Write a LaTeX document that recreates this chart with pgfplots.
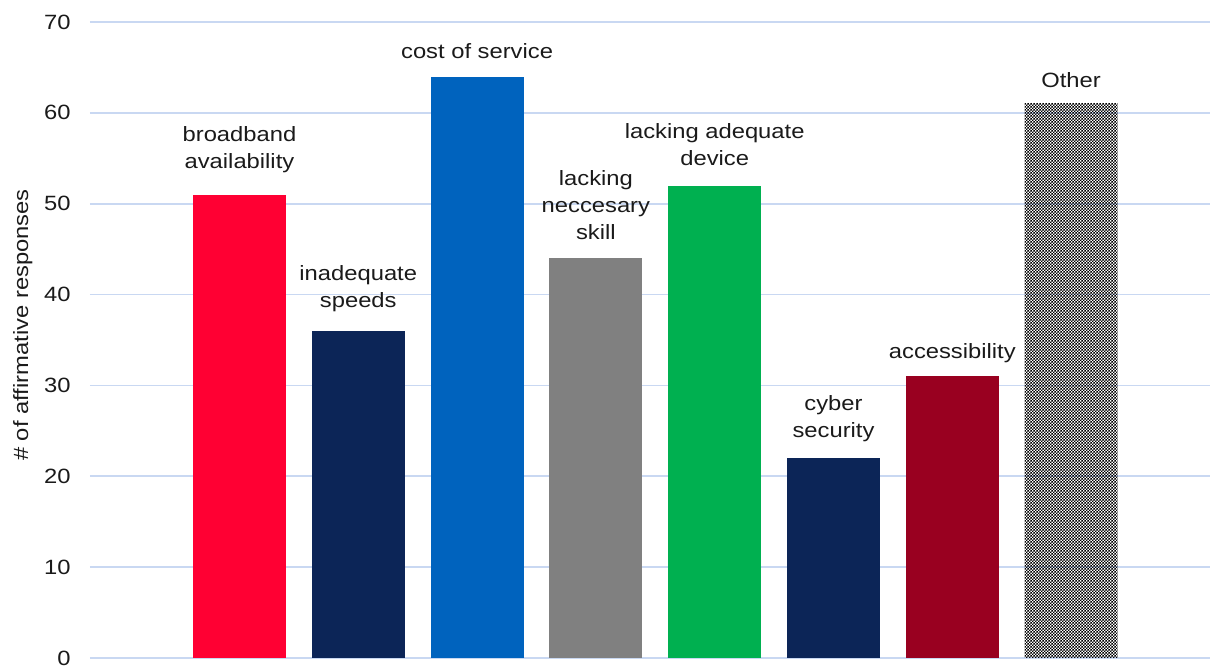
\documentclass[border=0pt]{standalone}
\usepackage{fontspec}
\setmainfont{Liberation Sans}[FakeStretch=1.15]
\usepackage{pgfplots}
\pgfplotsset{compat=1.18}
\usetikzlibrary{patterns}
\definecolor{cred}{HTML}{FF0033}
\definecolor{cnavy}{HTML}{0C2557}
\definecolor{cblue}{HTML}{0063BE}
\definecolor{cgray}{HTML}{808080}
\definecolor{cgreen}{HTML}{00B050}
\definecolor{cdred}{HTML}{990020}
\definecolor{gridc}{HTML}{C9D8F2}
\definecolor{txt}{HTML}{1A1A1A}
\pgfdeclarepatternformonly{finechecker}{\pgfpointorigin}{\pgfqpoint{2.2pt}{2.2pt}}{\pgfqpoint{2.2pt}{2.2pt}}{%
  \pgfpathrectangle{\pgfpointorigin}{\pgfqpoint{1.1pt}{1.1pt}}%
  \pgfpathrectangle{\pgfqpoint{1.1pt}{1.1pt}}{\pgfqpoint{1.1pt}{1.1pt}}%
  \pgfusepath{fill}}
\begin{document}
\begin{tikzpicture}
\useasboundingbox (-67.5pt,-6pt) rectangle (844.5pt,493.5pt);
\begin{axis}[
  at={(0,0)}, anchor=south west,
  scale only axis, width=840pt, height=477pt,
  ybar, bar width=0.783, bar shift=0pt,
  xmin=-1.258, xmax=8.169, ymin=0, ymax=70,
  ytick={0,10,...,70}, xtick=\empty,
  axis line style={draw=none},
  major tick length=0pt,
  ymajorgrids, grid style={draw=gridc, line width=1.3pt},
  /pgf/number format/assume math mode=true,
  tick label style={font=\fontsize{15.5}{18}\selectfont, text=txt},
  yticklabel style={xshift=-11pt},
  ylabel={\# of affirmative responses},
  ylabel style={at={(axis description cs:-0.0601,0.5236)}, anchor=center, font=\fontsize{15.5}{18}\selectfont, text=txt},
  nodes near coords, point meta=explicit symbolic,
  every node near coord/.append style={align=center, anchor=south, inner sep=0pt, text depth=0pt, font=\fontsize{15.5}{20.25}\selectfont, text=txt},
]
\addplot[fill=cred, draw=none, every node near coord/.append style={yshift=19.5pt}] coordinates {(0,51) [{broadband\\availability}]};
\addplot[fill=cnavy, draw=none, every node near coord/.append style={yshift=17pt}] coordinates {(1,36) [{inadequate\\speeds}]};
\addplot[fill=cblue, draw=none, every node near coord/.append style={yshift=13pt}] coordinates {(2,64) [{cost of service}]};
\addplot[fill=cgray, draw=none, every node near coord/.append style={yshift=13.5pt}] coordinates {(3,44) [{lacking\\neccesary\\skill}]};
\addplot[fill=cgreen, draw=none, every node near coord/.append style={yshift=14.6pt}] coordinates {(4,52) [{lacking adequate\\device}]};
\addplot[fill=cnavy, draw=none, every node near coord/.append style={yshift=15pt}] coordinates {(5,22) [{cyber\\security}]};
\addplot[fill=cdred, draw=none, every node near coord/.append style={yshift=13.5pt}] coordinates {(6,31) [{accessibility}]};
\addplot[pattern=finechecker, pattern color=black, draw=none, every node near coord/.append style={yshift=12pt}] coordinates {(7,61) [{Other}]};
\end{axis}
\end{tikzpicture}
\end{document}
